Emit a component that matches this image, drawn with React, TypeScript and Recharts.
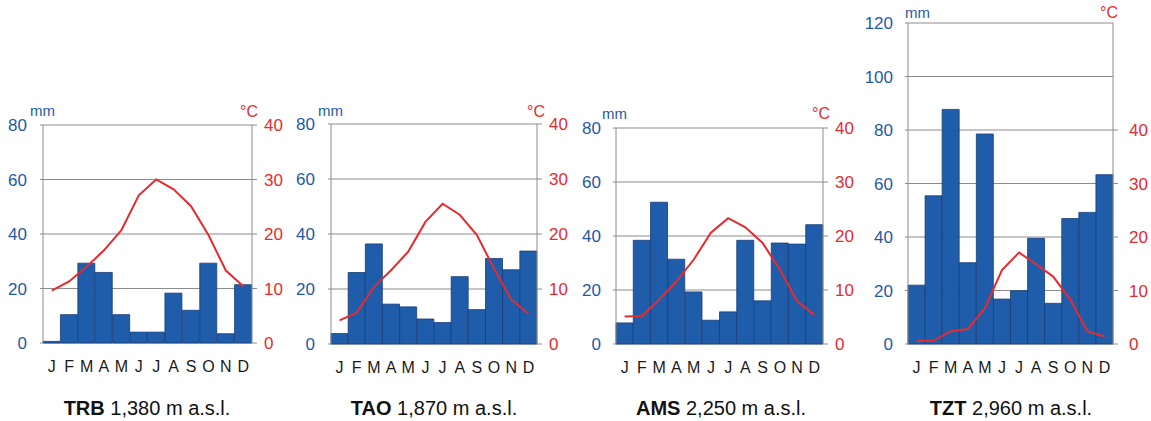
import React from 'react';
import { ComposedChart, Bar, Line, XAxis, YAxis, CartesianGrid } from 'recharts';

// ---------- data ----------
const months = ['J', 'F', 'M', 'A', 'M', 'J', 'J', 'A', 'S', 'O', 'N', 'D'];

const trbPrecip = [0.6, 10.4, 29.3, 25.9, 10.4, 4.0, 4.0, 18.3, 12.0, 29.3, 3.4, 21.4];
const trbTemp = [9.6, 11.3, 14.0, 17.0, 20.7, 27.1, 30.0, 28.2, 25.1, 19.8, 13.3, 10.4];

const taoPrecip = [3.8, 26.0, 36.4, 14.5, 13.5, 9.1, 7.8, 24.5, 12.5, 31.1, 27.0, 33.8];
const taoTemp = [4.3, 5.7, 10.4, 13.4, 16.8, 22.2, 25.5, 23.5, 19.8, 13.7, 8.1, 5.5];

const amsPrecip = [7.8, 38.4, 52.5, 31.4, 19.3, 8.8, 11.9, 38.4, 16.0, 37.4, 37.0, 44.2];
const amsTemp = [5.1, 5.2, 8.2, 11.6, 15.6, 20.6, 23.3, 21.6, 18.7, 13.8, 7.9, 5.4];

const tztPrecip = [22.0, 55.4, 87.7, 30.4, 78.5, 16.8, 19.9, 39.5, 15.2, 46.9, 49.2, 63.3];
const tztTemp = [0.6, 0.6, 2.4, 2.8, 6.7, 13.8, 17.1, 14.9, 12.6, 8.3, 2.4, 1.4];

const stationCodes = ['TRB', 'TAO', 'AMS', 'TZT'];
const altitudes = ['1,380', '1,870', '2,250', '2,960'];

const precipTicks80 = [0, 20, 40, 60, 80];
const precipTicks120 = [0, 20, 40, 60, 80, 100, 120];
const tempTicks = [0, 10, 20, 30, 40];
const monthBoundaries = [0, 1, 2, 3, 4, 5, 6, 7, 8, 9, 10, 11, 12];

// ---------- layout / style ----------
const BLUE = '#1f5aa6';
const RED = '#e52b30';
const BAR = '#1f5dab';
const BAR_EDGE = '#183c78';
const GRID = '#8c8c8c';
const FONT = '"Liberation Sans", Arial, sans-serif';

const SIDE = 60;
const TOP = 12;
const BOTTOM = 40;

type Panel = {
  plotLeft: number; plotRight: number; plotTop: number; plotBottom: number;
  precip: number[]; temp: number[]; pMax: number; pTicks: number[]; tMax: number;
  mm: [number, number]; deg: [number, number];
  titleX: number; leftMargin: number; rightMargin: number;
};

const panels: Panel[] = [
  { plotLeft: 43, plotRight: 252, plotTop: 125, plotBottom: 343, precip: trbPrecip, temp: trbTemp, pMax: 80, pTicks: precipTicks80, tMax: 40, mm: [30, 113], deg: [240, 113], titleX: 147, leftMargin: 13, rightMargin: 7 },
  { plotLeft: 331, plotRight: 537, plotTop: 124, plotBottom: 344, precip: taoPrecip, temp: taoTemp, pMax: 80, pTicks: precipTicks80, tMax: 40, mm: [318, 113], deg: [527, 113], titleX: 434, leftMargin: 13, rightMargin: 7 },
  { plotLeft: 616, plotRight: 823, plotTop: 128, plotBottom: 344, precip: amsPrecip, temp: amsTemp, pMax: 80, pTicks: precipTicks80, tMax: 40, mm: [602, 116], deg: [812, 115], titleX: 721, leftMargin: 12, rightMargin: 7 },
  { plotLeft: 908, plotRight: 1113, plotTop: 23, plotBottom: 344, precip: tztPrecip, temp: tztTemp, pMax: 120, pTicks: precipTicks120, tMax: 60, mm: [905, 15], deg: [1100, 14], titleX: 1011, leftMargin: 12, rightMargin: 11 },
];

function Climograph({ p, idx }: { p: Panel; idx: number }) {
  const data = months.map((m, i) => ({ m, key: i, p: p.precip[i], t: p.temp[i] }));
  const W = p.plotRight - p.plotLeft + 2 * SIDE;
  const H = p.plotBottom - p.plotTop + TOP + BOTTOM;
  return (
    <>
      <div style={{ position: 'absolute', left: p.plotLeft - SIDE, top: p.plotTop - TOP }}>
        <ComposedChart
          width={W}
          height={H}
          data={data}
          margin={{ top: TOP, right: 0, bottom: 0, left: 0 }}
          barCategoryGap={0}
          barGap={0}
        >
          <CartesianGrid vertical={false} stroke={GRID} strokeWidth={1} xAxisId="m" yAxisId="p" />
          <XAxis
            xAxisId="b"
            type="number"
            domain={[0, 12]}
            ticks={monthBoundaries}
            allowDataOverflow
            height={1}
            tick={false}
            tickSize={5}
            tickLine={{ stroke: '#555' }}
            axisLine={false}
          />
          <XAxis
            xAxisId="m"
            dataKey="key"
            type="category"
            height={BOTTOM - 1}
            interval={0}
            tickLine={false}
            axisLine={false}
            tickSize={0}
            tickMargin={17}
            tickFormatter={(v: number) => months[v]}
            tick={{ fill: '#1a1a1a', fontSize: 16, fontFamily: FONT }}
          />
          <YAxis
            yAxisId="p"
            width={SIDE}
            domain={[0, p.pMax]}
            ticks={p.pTicks}
            interval={0}
            tickSize={3}
            tickMargin={p.leftMargin}
            axisLine={{ stroke: GRID }}
            tickLine={{ stroke: GRID }}
            tick={{ fill: BLUE, fontSize: 17, fontFamily: FONT }}
          />
          <YAxis
            yAxisId="t"
            orientation="right"
            width={SIDE}
            domain={[0, p.tMax]}
            ticks={tempTicks}
            interval={0}
            tickSize={5}
            tickMargin={p.rightMargin}
            axisLine={{ stroke: GRID }}
            tickLine={{ stroke: GRID }}
            tick={{ fill: RED, fontSize: 17, fontFamily: FONT }}
          />
          <Bar
            xAxisId="m"
            yAxisId="p"
            dataKey="p"
            fill={BAR}
            stroke={BAR_EDGE}
            strokeWidth={0.8}
            isAnimationActive={false}
          />
          <Line
            xAxisId="m"
            yAxisId="t"
            dataKey="t"
            type="linear"
            stroke={RED}
            strokeWidth={2}
            dot={false}
            activeDot={false}
            isAnimationActive={false}
          />
        </ComposedChart>
      </div>
      <span style={{ position: 'absolute', left: p.mm[0], top: p.mm[1] - 10, color: BLUE, fontSize: 15, fontFamily: FONT, lineHeight: '16px' }}>mm</span>
      <span style={{ position: 'absolute', left: p.deg[0], top: p.deg[1] - 10, color: RED, fontSize: 16, fontFamily: FONT, lineHeight: '18px' }}>°C</span>
      <div style={{ position: 'absolute', left: p.titleX - 120, width: 240, top: 396, textAlign: 'center', fontSize: 20, fontFamily: FONT, color: '#111', lineHeight: '24px', whiteSpace: 'nowrap' }}>
        <b>{stationCodes[idx]}</b> {altitudes[idx]} m a.s.l.
      </div>
    </>
  );
}

export default function App() {
  return (
    <div style={{ position: 'absolute', left: 0, top: 0, width: 1151, height: 421, background: '#fff', overflow: 'hidden' }}>
      {panels.map((p, i) => (
        <Climograph key={i} p={p} idx={i} />
      ))}
    </div>
  );
}
